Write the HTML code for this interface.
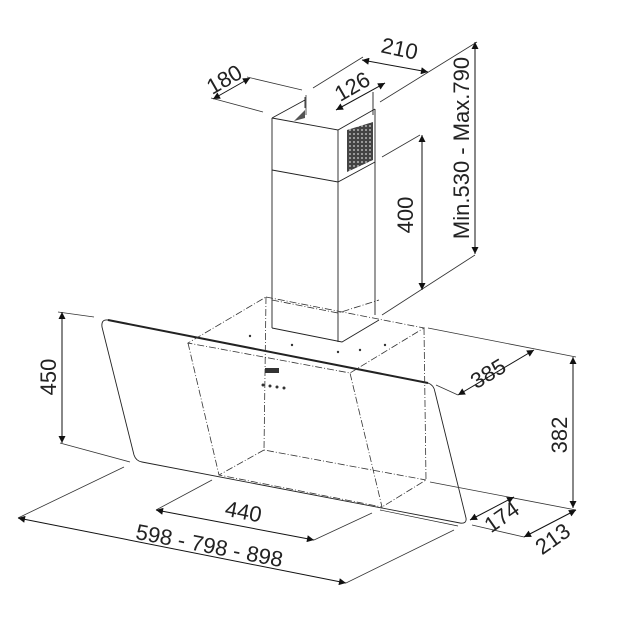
<!DOCTYPE html>
<html><head><meta charset="utf-8"><style>
html,body{margin:0;padding:0;background:#fff}
svg{display:block}
text{font-family:"Liberation Sans",sans-serif;font-size:22px;fill:#222}
</style></head><body>
<svg width="623" height="630" viewBox="0 0 623 630" xmlns="http://www.w3.org/2000/svg">
<defs>
<marker id="a" viewBox="0 0 10 10" refX="10" refY="5" markerWidth="10" markerHeight="7" orient="auto-start-reverse" markerUnits="userSpaceOnUse">
<path d="M0,0 L10,5 L0,10 z" fill="#111"/></marker>
<pattern id="g" width="4" height="4" patternUnits="userSpaceOnUse"><rect width="4" height="4" fill="#444"/><rect x="1" y="1" width="2" height="2" fill="#999"/></pattern>
</defs>
<g stroke="#222" stroke-width="0.9" fill="none">
<path d="M272,118 L338,130 L375,109"/>
<path d="M272,118 L305,100 M305,97 L305,108"/>
<path d="M375,109 L375,315 M373,92 L373,115"/>
<path d="M272,118 L272,328 M338,130 L338,342"/>
<path d="M272,170 L338,182 L375,162"/>
<path d="M272,328 L342,342 L379,320"/>
<polygon points="347,130 373,122 373,160 347,172" fill="url(#g)" stroke="none"/>
<polygon points="294,121 305,110 305,118" fill="#555" stroke="none"/>
<path d="M108,320 L428,383 Q434,385 435,392 L466,518 Q467,524 460,523 L142,462 Q136,461 134,455 L102,327 Q101,319 108,320 Z"/>
<path d="M108,320 L428,383" stroke-width="2"/>
<path d="M380,510 L458,526" stroke-width="0.7"/>
</g>
<g stroke="#333" stroke-width="0.8" fill="none" stroke-dasharray="7,2,1,2">
<path d="M266,297 L424,328 L350,373 L188,343 Z"/>
<path d="M188,343 L219,475 L382,507 L350,373"/>
<path d="M424,328 L426,480 L382,507"/>
<path d="M266,297 L264,450 L426,480 M264,450 L219,475"/>
<path d="M272,300 L338,313 L379,300"/>
</g>
<g fill="#333"><rect x="265" y="368" width="14" height="5"/><circle cx="263" cy="385" r="1.5"/><circle cx="270" cy="386" r="1.5"/><circle cx="277" cy="387" r="1.5"/><circle cx="284" cy="388" r="1.5"/><circle cx="250" cy="336" r="1.2"/><circle cx="292" cy="345" r="1.2"/><circle cx="360" cy="350" r="1.2"/><circle cx="338" cy="352" r="1.2"/><circle cx="385" cy="345" r="1.2"/></g>
<g stroke="#333" stroke-width="0.8" fill="none">
<path d="M211,98 L263,112 M247,77 L302,90"/>
<path d="M313,88 L363,57 M380,102 L477,42"/>
<path d="M306,95 L306,115"/>
<path d="M382,157 L420,135 M382,315 L475,255"/>
<path d="M58,312 L94,317 M60,443 L130,462"/>
<path d="M428,328 L576,357 M436,385 L458,395"/>
<path d="M430,482 L576,510 M472,525 L524,537"/>
<path d="M156,510 L212,480 M314,540 L372,513"/>
<path d="M18,518 L124,467 M346,583 L454,530"/>
</g>
<g stroke="#111" stroke-width="1" fill="none" marker-start="url(#a)" marker-end="url(#a)">
<line x1="213" y1="99" x2="250" y2="78"/>
<line x1="362" y1="60" x2="428" y2="72"/>
<line x1="336" y1="110" x2="385" y2="83"/>
<line x1="475" y1="42" x2="475" y2="254"/>
<line x1="422" y1="135" x2="422" y2="290"/>
<line x1="62" y1="312" x2="62" y2="443"/>
<line x1="458" y1="395" x2="534" y2="350"/>
<line x1="573" y1="357" x2="573" y2="508"/>
<line x1="470" y1="520" x2="514" y2="497"/>
<line x1="524" y1="537" x2="576" y2="510"/>
<line x1="156" y1="510" x2="314" y2="540"/>
<line x1="18" y1="518" x2="346" y2="583"/>
</g>
<text transform="translate(228,86) rotate(-30)" text-anchor="middle">180</text>
<text transform="translate(398,56) rotate(12)" text-anchor="middle">210</text>
<text transform="translate(356,93) rotate(-30)" text-anchor="middle">126</text>
<text transform="translate(469,148) rotate(-90)" text-anchor="middle">Min.530 - Max.790</text>
<text transform="translate(413,215) rotate(-90)" text-anchor="middle">400</text>
<text transform="translate(56,377) rotate(-90)" text-anchor="middle">450</text>
<text transform="translate(492,380) rotate(-31)" text-anchor="middle">385</text>
<text transform="translate(567,435) rotate(-90)" text-anchor="middle">382</text>
<text transform="translate(506,523) rotate(-35)" text-anchor="middle">174</text>
<text transform="translate(557,545) rotate(-35)" text-anchor="middle">213</text>
<text transform="translate(242,519) rotate(11)" text-anchor="middle">440</text>
<text transform="translate(208,553) rotate(11)" text-anchor="middle">598 - 798 - 898</text>
</svg>
</body></html>
